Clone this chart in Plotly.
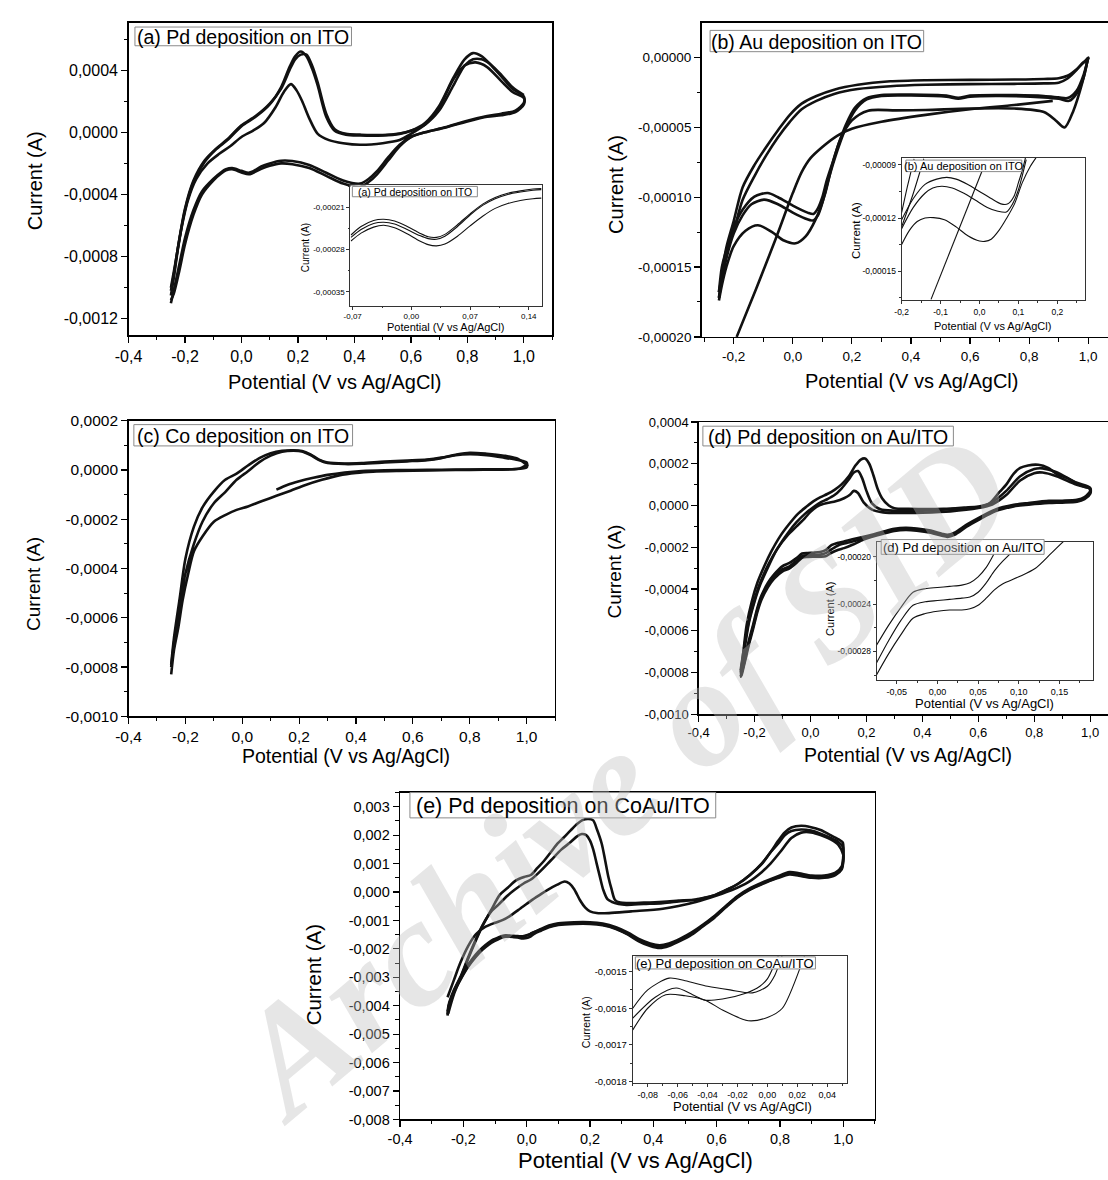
import plotly.graph_objects as go

W, H = 1108, 1180
FONT = "Liberation Sans, Arial, sans-serif"

def px(x): return x / W
def py(y): return 1 - y / H
def lab(v, d): return f"{v:.{d}f}".replace(".", ",")

# ---------------- panel (a) Pd on ITO ----------------
A_AN1_X = [-0.25, -0.235, -0.215, -0.19, -0.16, -0.12, -0.08, -0.04, 0.0, 0.04, 0.08, 0.12, 0.15, 0.175, 0.195, 0.215, 0.24, 0.27, 0.31, 0.36, 0.42, 0.5, 0.56, 0.6, 0.65, 0.7, 0.75, 0.79, 0.83, 0.87, 0.92, 0.96, 1.0]
A_AN1_Y = [-0.00100, -0.00085, -0.00064, -0.00044, -0.00030, -0.00020, -0.00014, -0.00009, -0.00003, 0.00001, 0.00006, 0.00016, 0.00026, 0.00031, 0.00027, 0.00020, 0.00009, -0.00001, -0.00005, -0.00007, -0.00008, -0.00007, -0.00005, -0.00001, 0.00005, 0.00016, 0.00034, 0.00043, 0.00045, 0.00042, 0.00033, 0.00026, 0.00022]
A_AN2_X = [-0.25, -0.24, -0.225, -0.2, -0.17, -0.13, -0.09, -0.05, 0.0, 0.05, 0.1, 0.14, 0.17, 0.19, 0.21, 0.23, 0.25, 0.27, 0.3, 0.33, 0.37, 0.42, 0.5, 0.56, 0.6, 0.65, 0.7, 0.75, 0.79, 0.82, 0.85, 0.88, 0.92, 0.96, 1.0]
A_AN2_Y = [-0.00105, -0.00094, -0.00075, -0.0005, -0.00032, -0.00019, -0.00011, -0.00005, 0.00004, 0.0001, 0.00018, 0.00029, 0.00042, 0.00049, 0.00052, 0.00049, 0.00041, 0.0003, 0.0001, 0.00001, -0.000015, -0.00002, -0.00002, -0.00001, 0.00001, 0.00006, 0.00017, 0.00035, 0.00047, 0.00051, 0.00049, 0.00044, 0.00036, 0.00028, 0.00023]
A_AN3_Y = [-0.00102, -0.00092, -0.00074, -0.00049, -0.00031, -0.00018, -0.000105, -0.000045, 0.000045, 0.000105, 0.000185, 0.00028, 0.0004, 0.00047, 0.0005, 0.0005, 0.00043, 0.00032, 0.00012, 0.00002, -0.00001, -0.000015, -0.000018, -0.000008, 0.00001, 0.00005, 0.00014, 0.0003, 0.00043, 0.00047, 0.00047, 0.00044, 0.00037, 0.00029, 0.00024]
A_CA_X = [1.0, 0.97, 0.92, 0.87, 0.8, 0.72, 0.65, 0.6, 0.56, 0.52, 0.48, 0.45, 0.42, 0.36, 0.3, 0.24, 0.18, 0.14, 0.1, 0.07, 0.04, 0.025, 0.0, -0.033, -0.055, -0.072, -0.1, -0.14, -0.17, -0.2, -0.22, -0.24, -0.25]
A_CA1_Y = [0.00018, 0.00013, 0.00011, 0.0001, 0.00007, 0.00003, 0.0, -0.00003, -0.00008, -0.00016, -0.00025, -0.0003, -0.00033, -0.00031, -0.00026, -0.00021, -0.000185, -0.000183, -0.0002, -0.00022, -0.000252, -0.00026, -0.000248, -0.00023, -0.000238, -0.000257, -0.0003, -0.00038, -0.0005, -0.00068, -0.00085, -0.00102, -0.0011]
A_CA2_Y = [0.00019, 0.00014, 0.00012, 0.000105, 0.000075, 0.000032, 0.0, -0.00003, -0.00009, -0.00018, -0.00027, -0.00032, -0.00035, -0.00033, -0.00028, -0.00023, -0.000205, -0.0002, -0.000215, -0.000235, -0.000262, -0.00027, -0.000258, -0.000238, -0.000245, -0.000265, -0.00031, -0.0004, -0.00053, -0.00072, -0.00089, -0.00104, -0.00108]

# inset (a)
AI_X = [-0.072, -0.06, -0.045, -0.033, -0.02, -0.005, 0.01, 0.02, 0.03, 0.04, 0.055, 0.07, 0.085, 0.1, 0.115, 0.13, 0.145, 0.155]
AI_Y1 = [-0.000256, -0.000242, -0.000232, -0.00023, -0.000233, -0.000242, -0.000253, -0.000259, -0.00026, -0.000255, -0.000239, -0.000221, -0.000205, -0.000194, -0.000187, -0.000183, -0.00018, -0.000179]
AI_Y2 = [-0.00026, -0.000247, -0.000237, -0.000235, -0.000238, -0.000247, -0.000257, -0.000262, -0.000263, -0.000258, -0.000242, -0.000223, -0.000207, -0.000196, -0.000189, -0.000185, -0.000182, -0.000181]
AI_Y3 = [-0.000266, -0.000253, -0.000243, -0.00024, -0.000244, -0.000254, -0.000266, -0.000272, -0.000274, -0.000271, -0.000258, -0.000241, -0.000225, -0.000212, -0.000204, -0.000199, -0.000196, -0.000195]

# ---------------- panel (b) Au on ITO ----------------
B_AN_X = [-0.25, -0.24, -0.225, -0.2, -0.17, -0.13, -0.09, -0.05, -0.01, 0.03, 0.08, 0.14, 0.22, 0.33, 0.45, 0.6, 0.75, 0.85, 0.9, 0.93, 0.96, 0.98, 1.0]
B_AN1_Y = [-0.000172, -0.000155, -0.000136, -0.000117, -0.000093, -0.000077, -0.000064, -0.000052, -0.000041, -0.000033, -0.0000275, -0.000023, -0.0000195, -0.000017, -0.0000162, -0.000016, -0.0000157, -0.0000153, -0.0000148, -0.000013, -0.0000085, -0.0000045, 0.0]
B_AN2_Y = [-0.000168, -0.00015, -0.000138, -0.000124, -0.000102, -0.000085, -0.00007, -0.000057, -0.000046, -0.000037, -0.000031, -0.000026, -0.0000225, -0.0000205, -0.0000195, -0.000019, -0.0000188, -0.0000185, -0.000018, -0.000015, -0.000009, -0.000004, -0.000001]
B_CA1_X = [1.0, 0.985, 0.96, 0.93, 0.9, 0.85, 0.7, 0.6, 0.56, 0.52, 0.4, 0.3, 0.25, 0.21, 0.18, 0.155, 0.135, 0.115, 0.1, 0.085, 0.07, 0.05, 0.0, -0.05, -0.085, -0.13, -0.17, -0.2, -0.225, -0.24, -0.25]
B_CA1_Y = [0.0, -0.000012, -0.000024, -0.000029, -0.0000285, -0.0000275, -0.0000268, -0.0000272, -0.0000288, -0.0000272, -0.0000265, -0.0000268, -0.000029, -0.000036, -0.000048, -0.000062, -0.000075, -0.000088, -0.0001, -0.000108, -0.000112, -0.000111, -0.000106, -0.0001, -0.000097, -0.0000995, -0.000109, -0.000122, -0.00014, -0.000156, -0.000168]
B_CA2_X = [1.0, 0.985, 0.96, 0.935, 0.9, 0.85, 0.7, 0.6, 0.56, 0.52, 0.4, 0.3, 0.25, 0.21, 0.18, 0.155, 0.135, 0.12, 0.1, 0.085, 0.069, 0.04, 0.0, -0.05, -0.097, -0.14, -0.17, -0.2, -0.225, -0.24, -0.25]
B_CA2_Y = [0.0, -0.000014, -0.000026, -0.000031, -0.0000295, -0.0000285, -0.0000275, -0.000028, -0.0000295, -0.000028, -0.0000272, -0.0000275, -0.00003, -0.000038, -0.00005, -0.000064, -0.000077, -0.000088, -0.000104, -0.000113, -0.0001166, -0.000115, -0.000111, -0.000105, -0.0001017, -0.000105, -0.000113, -0.000126, -0.000144, -0.00016, -0.000172]
B_CA3_X = [1.0, 0.98, 0.95, 0.92, 0.89, 0.85, 0.75, 0.6, 0.45, 0.35, 0.255, 0.2, 0.16, 0.132, 0.11, 0.077, 0.0435, 0.01, -0.03, -0.07, -0.118, -0.16, -0.2, -0.225, -0.24, -0.25]
B_CA3_Y = [0.0, -0.000018, -0.000038, -0.00005, -0.000045, -0.000039, -0.0000365, -0.0000365, -0.0000375, -0.0000378, -0.000038, -0.000045, -0.000059, -0.000078, -0.000097, -0.000116, -0.000128, -0.000133, -0.000131, -0.000125, -0.00012, -0.000124, -0.000135, -0.00015, -0.000163, -0.000174]
B_L1_X = [-0.19, -0.125, -0.06, 0.0, 0.03, 0.06, 0.1, 0.15, 0.2, 0.3, 0.45, 0.6, 0.75, 0.88]
B_L1_Y = [-0.0002, -0.000166, -0.000131, -0.000097, -0.000082, -0.000072, -0.000064, -0.000056, -0.000051, -0.000046, -0.000041, -0.000037, -0.000034, -0.000031]

# inset (b)
BI_A_X = [-0.2, -0.17, -0.14, -0.11, -0.084, -0.06, -0.03, 0.0, 0.03, 0.055, 0.073, 0.088, 0.1, 0.11, 0.118]
BI_A_Y = [-0.000121, -0.000109, -0.000101, -0.000098, -0.000097, -0.000098, -0.000101, -0.000105, -0.000109, -0.000112, -0.000112, -0.000108, -0.0001, -0.000093, -0.000086]
BI_B_X = [-0.2, -0.17, -0.14, -0.12, -0.097, -0.07, -0.04, -0.01, 0.02, 0.045, 0.069, 0.085, 0.1, 0.11, 0.12]
BI_B_Y = [-0.000126, -0.000114, -0.000106, -0.000103, -0.000102, -0.000103, -0.000106, -0.00011, -0.000114, -0.000116, -0.0001166, -0.000112, -0.000104, -0.000096, -0.000087]
BI_C_X = [-0.2, -0.18, -0.16, -0.14, -0.118, -0.09, -0.06, -0.03, 0.0, 0.0135, 0.03, 0.05, 0.07, 0.09, 0.11, 0.13, 0.145]
BI_C_Y = [-0.000135, -0.000127, -0.000122, -0.00012, -0.0001198, -0.000121, -0.000125, -0.00013, -0.000133, -0.0001332, -0.000132, -0.000127, -0.00012, -0.000112, -0.0001, -0.000091, -0.000086]
BI_S1_X = [-0.2, -0.185, -0.168]
BI_S1_Y = [-0.000117, -0.000102, -0.0000865]
BI_S2_X = [-0.2, -0.17, -0.143]
BI_S2_Y = [-0.000125, -0.000106, -0.0000865]
BI_D_X = [-0.1245, 0.0178]
BI_D_Y = [-0.000166, -0.0000872]

# ---------------- panel (c) Co on ITO ----------------
C_L1_X = [0.12, 0.16, 0.2, 0.25, 0.3, 0.36, 0.42, 0.5, 0.6, 0.7, 0.8, 0.9, 0.97, 1.0]
C_L1_Y = [-0.00008, -0.00006, -0.000046, -0.000032, -0.00002, -0.00001, -0.000004, -0.000001, 0.0, 0.000001, 0.000002, 0.000003, 0.000005, 0.00002]
C_CA_X = [1.0, 0.97, 0.92, 0.86, 0.8, 0.75, 0.7, 0.65, 0.58, 0.5, 0.42, 0.36, 0.3, 0.27, 0.24, 0.21, 0.18, 0.14, 0.1, 0.06, 0.02, -0.02, -0.06, -0.1, -0.14, -0.17, -0.2, -0.22, -0.24, -0.25]
C_CA1_Y = [0.00002, 0.000045, 0.000058, 0.000066, 0.00007, 0.000062, 0.00005, 0.000042, 0.000038, 0.000034, 0.000028, 0.000026, 0.00003, 0.000042, 0.000063, 0.000077, 0.00008, 0.000078, 0.000068, 0.000048, 0.000018, -0.000015, -0.00004, -0.000088, -0.000152, -0.00023, -0.00036, -0.00052, -0.00068, -0.00079]
C_CA2_Y = [0.00003, 0.00004, 0.00005, 0.00006, 0.000064, 0.00006, 0.000048, 0.00004, 0.000035, 0.00003, 0.000025, 0.000024, 0.000028, 0.00004, 0.00006, 0.000075, 0.000078, 0.000074, 0.000058, 0.000032, -0.000005, -0.00004, -0.00009, -0.000135, -0.00021, -0.0003, -0.00042, -0.00055, -0.0007, -0.0008]
C_AN_X = [-0.25, -0.24, -0.225, -0.21, -0.19, -0.17, -0.14, -0.1, -0.06, -0.02, 0.02, 0.07, 0.12, 0.17, 0.22, 0.28, 0.34, 0.4, 0.46, 0.55, 0.65, 0.75, 0.85, 0.95, 1.0]
C_AN_Y = [-0.00083, -0.00073, -0.00064, -0.00053, -0.00042, -0.00033, -0.00027, -0.00021, -0.000183, -0.000162, -0.000148, -0.000126, -0.000105, -0.000084, -0.000062, -0.00004, -0.000022, -0.000012, -0.000007, -0.000004, -0.000002, 0.0, 0.000001, 0.000003, 0.00001]

# ---------------- panel (d) Pd on Au/ITO ----------------
D_AN1_X = [-0.25, -0.24, -0.228, -0.21, -0.19, -0.165, -0.14, -0.11, -0.077, -0.045, -0.014, 0.01, 0.036, 0.06, 0.086, 0.11, 0.137, 0.16, 0.18, 0.195, 0.21, 0.225, 0.24, 0.256, 0.28, 0.3, 0.35, 0.476, 0.55, 0.6, 0.64, 0.677, 0.7, 0.727, 0.75, 0.778, 0.815, 0.85, 0.878, 0.92, 0.953, 0.98, 0.997]
D_AN1_Y = [-0.00082, -0.0007, -0.00057, -0.00046, -0.00037, -0.00029, -0.00022, -0.00015, -0.00009, -0.00004, -0.000005, 0.00002, 0.00004, 0.000055, 0.000075, 0.0001, 0.00014, 0.00019, 0.00022, 0.000225, 0.0002, 0.000145, 0.00008, 0.000035, 0.0, -0.000013, -0.000016, -0.000016, -0.00001, -0.000005, 0.00001, 0.000066, 0.0001, 0.000153, 0.00018, 0.000192, 0.000195, 0.00018, 0.000153, 0.00013, 0.000105, 0.00009, 0.000082]
D_AN2_X = [-0.25, -0.235, -0.22, -0.2, -0.18, -0.15, -0.12, -0.08, -0.05, -0.02, 0.01, 0.036, 0.06, 0.086, 0.11, 0.137, 0.155, 0.17, 0.185, 0.2, 0.22, 0.25, 0.3, 0.4, 0.5, 0.6, 0.65, 0.7, 0.75, 0.8, 0.83, 0.88, 0.95, 1.0]
D_AN2_Y = [-0.0008, -0.00068, -0.00056, -0.00046, -0.00038, -0.00029, -0.00021, -0.00013, -0.00008, -0.00004, -0.000008, 0.000015, 0.00003, 0.00005, 0.00008, 0.000125, 0.000158, 0.000165, 0.00013, 0.00007, 0.00001, -0.000018, -0.000025, -0.000025, -0.000018, -0.000008, 0.000015, 0.00007, 0.00014, 0.000175, 0.000178, 0.00016, 0.00011, 0.000085]
D_AN3_X = [-0.25, -0.235, -0.22, -0.2, -0.18, -0.15, -0.12, -0.08, -0.05, -0.02, 0.0, 0.03, 0.06, 0.09, 0.12, 0.14, 0.155, 0.17, 0.19, 0.22, 0.26, 0.32, 0.4, 0.5, 0.6, 0.65, 0.7, 0.75, 0.8, 0.83, 0.88, 0.95, 1.0]
D_AN3_Y = [-0.00079, -0.00066, -0.00055, -0.00045, -0.00037, -0.00028, -0.00021, -0.00014, -0.0001, -0.00006, -0.00003, 0.0, 0.000012, 0.00002, 0.000035, 0.00005, 0.00007, 0.00006, 0.000015, -0.00002, -0.000033, -0.000036, -0.000034, -0.000028, -0.000012, 0.000005, 0.00005, 0.00012, 0.000155, 0.000158, 0.00014, 0.0001, 0.00008]
D_CA_X = [1.0, 0.98, 0.953, 0.9, 0.853, 0.78, 0.727, 0.66, 0.6, 0.56, 0.515, 0.49, 0.47, 0.43, 0.38, 0.34, 0.3, 0.26, 0.22, 0.19, 0.15, 0.12, 0.1, 0.075, 0.054, 0.035, 0.01, -0.01, -0.03, -0.05, -0.075, -0.1, -0.13, -0.152, -0.175, -0.19, -0.205, -0.221, -0.235, -0.246, -0.25]
D_CA1_Y = [0.00007, 0.00004, 0.000027, 0.000023, 0.000022, 0.000012, 0.000003, -0.00002, -0.00006, -0.00009, -0.00013, -0.00014, -0.000135, -0.00012, -0.00011, -0.000107, -0.000112, -0.000125, -0.00014, -0.00015, -0.000162, -0.000172, -0.000178, -0.00019, -0.000214, -0.000223, -0.000226, -0.000227, -0.00023, -0.000252, -0.000275, -0.00029, -0.00033, -0.00037, -0.00043, -0.00049, -0.00057, -0.00065, -0.00073, -0.0008, -0.00082]
D_CA2_Y = [0.00006, 0.000035, 0.000022, 0.000018, 0.000016, 0.000008, 0.0, -0.000024, -0.000065, -0.000095, -0.000135, -0.000145, -0.00014, -0.000125, -0.000115, -0.000112, -0.000117, -0.00013, -0.000146, -0.000157, -0.000172, -0.000182, -0.00019, -0.00021, -0.000228, -0.000235, -0.000237, -0.000238, -0.000242, -0.000265, -0.000291, -0.000305, -0.00034, -0.00038, -0.00044, -0.0005, -0.00058, -0.00066, -0.00074, -0.0008, -0.00081]
D_CA3_Y = [0.000055, 0.00003, 0.000018, 0.000014, 0.000012, 0.000004, -0.000004, -0.000028, -0.00007, -0.0001, -0.00014, -0.00015, -0.000145, -0.00013, -0.00012, -0.000117, -0.000122, -0.000135, -0.00015, -0.000163, -0.000188, -0.000204, -0.000212, -0.000226, -0.000243, -0.000245, -0.000245, -0.000246, -0.00025, -0.000275, -0.000301, -0.000315, -0.00035, -0.00039, -0.00045, -0.00051, -0.00059, -0.00067, -0.00075, -0.00081, -0.00082]

# inset (d)
DI_X = [-0.075, -0.06, -0.045, -0.03, -0.015, 0.0, 0.015, 0.03, 0.04, 0.05, 0.06, 0.07, 0.08, 0.1, 0.12, 0.14, 0.16, 0.19]
DI_Y1 = [-0.000275, -0.000258, -0.000243, -0.00023, -0.000227, -0.000226, -0.000225, -0.000224, -0.000222, -0.000217, -0.000209, -0.000197, -0.000184, -0.000172, -0.000165, -0.000158, -0.00015, -0.00014]
DI_Y2 = [-0.00029, -0.000271, -0.000254, -0.000241, -0.000238, -0.000237, -0.000236, -0.000235, -0.000234, -0.00023, -0.000222, -0.000212, -0.000204, -0.000191, -0.00018, -0.000172, -0.000164, -0.000152]
DI_Y3 = [-0.0003, -0.000282, -0.000266, -0.000252, -0.000248, -0.000246, -0.000245, -0.000245, -0.000244, -0.000241, -0.000235, -0.000228, -0.000223, -0.000217, -0.00021, -0.000197, -0.000184, -0.00017]

# ---------------- panel (e) Pd on CoAu/ITO ----------------
E_AN1_X = [-0.248, -0.23, -0.206, -0.185, -0.164, -0.14, -0.112, -0.085, -0.06, -0.035, -0.008, 0.013, 0.034, 0.055, 0.076, 0.097, 0.117, 0.138, 0.159, 0.178, 0.195, 0.21, 0.222, 0.237, 0.248, 0.258, 0.268, 0.279, 0.295, 0.315, 0.37, 0.43, 0.48, 0.534, 0.565, 0.596, 0.632, 0.669, 0.705, 0.742, 0.77, 0.794, 0.815, 0.836, 0.867, 0.898, 0.928, 0.96, 0.985, 0.998]
E_AN1_Y = [-0.00428, -0.0036, -0.00294, -0.00235, -0.00179, -0.0012, -0.00063, -0.0001, 0.00015, 0.0004, 0.00053, 0.0006, 0.00085, 0.0011, 0.0014, 0.0017, 0.00192, 0.00216, 0.00239, 0.00254, 0.00257, 0.00252, 0.0022, 0.0017, 0.0011, 0.00053, 0.0001, -0.00028, -0.00037, -0.00039, -0.00037, -0.00034, -0.0003, -0.00026, -0.00019, -0.0001, 0.00008, 0.0003, 0.0006, 0.001, 0.0014, 0.0018, 0.0021, 0.00227, 0.00233, 0.00228, 0.00218, 0.002, 0.00185, 0.00175]
E_AN2_X = [-0.248, -0.23, -0.206, -0.185, -0.164, -0.14, -0.112, -0.09, -0.06, -0.038, -0.01, 0.0145, 0.04, 0.076, 0.11, 0.138, 0.16, 0.174, 0.188, 0.2, 0.21, 0.221, 0.232, 0.242, 0.255, 0.268, 0.29, 0.315, 0.37, 0.43, 0.48, 0.534, 0.565, 0.596, 0.632, 0.669, 0.705, 0.742, 0.77, 0.794, 0.815, 0.836, 0.867, 0.898, 0.928, 0.96, 0.985, 0.998]
E_AN2_Y = [-0.0041, -0.0035, -0.0029, -0.0023, -0.00175, -0.00118, -0.00068, -0.00045, -0.00012, 0.00008, 0.0003, 0.00045, 0.0007, 0.00111, 0.0015, 0.00175, 0.00197, 0.00204, 0.002, 0.00181, 0.0015, 0.001, 0.0005, 0.00007, -0.00025, -0.00034, -0.00042, -0.00045, -0.00042, -0.00039, -0.00033, -0.00027, -0.0002, -0.0001, 0.00008, 0.0003, 0.0006, 0.00098, 0.0014, 0.0017, 0.002, 0.00215, 0.0022, 0.00216, 0.00205, 0.0019, 0.00175, 0.0016]
E_AN3_X = [-0.25, -0.23, -0.21, -0.185, -0.16, -0.13, -0.1, -0.075, -0.05, -0.02, 0.002, 0.03, 0.065, 0.095, 0.12, 0.135, 0.15, 0.168, 0.185, 0.2, 0.221, 0.26, 0.33, 0.43, 0.534, 0.6, 0.65, 0.7, 0.742, 0.77, 0.8, 0.836, 0.867, 0.898, 0.93, 0.96, 0.985, 1.0]
E_AN3_Y = [-0.0037, -0.0031, -0.0025, -0.0019, -0.00148, -0.00122, -0.00108, -0.00098, -0.00082, -0.00058, -0.0004, -0.00018, 0.00007, 0.00025, 0.00037, 0.0003, 0.0001, -0.00028, -0.00055, -0.00068, -0.00074, -0.00074, -0.00068, -0.00059, -0.00035, -0.00012, 0.00008, 0.00035, 0.0007, 0.001, 0.0014, 0.0019, 0.00209, 0.0021, 0.002, 0.00185, 0.00165, 0.0013]
E_CA_X = [1.0, 0.995, 0.975, 0.94, 0.9, 0.86, 0.83, 0.79, 0.75, 0.7, 0.665, 0.63, 0.593, 0.555, 0.521, 0.485, 0.449, 0.42, 0.39, 0.354, 0.32, 0.282, 0.24, 0.2, 0.15, 0.1, 0.07, 0.045, 0.025, 0.01, 0.0, -0.013, -0.028, -0.042, -0.055, -0.066, -0.078, -0.09, -0.105, -0.12, -0.14, -0.161, -0.185, -0.209, -0.23, -0.245, -0.25]
E_CA1_Y = [0.0013, 0.0009, 0.00068, 0.00058, 0.00058, 0.00066, 0.0007, 0.00054, 0.00036, 0.0001, -0.00015, -0.00048, -0.00084, -0.00116, -0.00142, -0.00164, -0.00181, -0.00187, -0.00181, -0.00165, -0.00143, -0.00124, -0.00111, -0.00106, -0.00106, -0.0011, -0.00118, -0.0013, -0.0014, -0.00148, -0.00152, -0.00156, -0.00155, -0.00154, -0.00153, -0.00152, -0.00155, -0.0016, -0.00167, -0.00178, -0.00196, -0.0022, -0.00256, -0.003, -0.00345, -0.0039, -0.0042]
E_CA2_Y = [0.0012, 0.00085, 0.00063, 0.00053, 0.00053, 0.0006, 0.00065, 0.0005, 0.00033, 0.00007, -0.00018, -0.0005, -0.00087, -0.00119, -0.00146, -0.00168, -0.00186, -0.00193, -0.00187, -0.0017, -0.00148, -0.00128, -0.00115, -0.0011, -0.0011, -0.00114, -0.00121, -0.00132, -0.0014, -0.00149, -0.00153, -0.00157, -0.00158, -0.00158, -0.00155, -0.00155, -0.00158, -0.00163, -0.00171, -0.00182, -0.002, -0.00225, -0.0026, -0.00305, -0.0035, -0.00395, -0.0043]
E_CA3_Y = [0.0011, 0.0008, 0.0006, 0.0005, 0.0005, 0.00057, 0.00062, 0.00048, 0.00031, 0.00005, -0.0002, -0.00053, -0.0009, -0.00122, -0.0015, -0.00172, -0.0019, -0.00197, -0.0019, -0.00173, -0.0015, -0.0013, -0.00117, -0.00112, -0.00112, -0.00116, -0.00124, -0.00136, -0.00146, -0.00158, -0.00162, -0.00163, -0.0016, -0.00158, -0.00157, -0.00157, -0.0016, -0.00166, -0.00174, -0.00185, -0.00203, -0.00228, -0.00263, -0.00308, -0.00353, -0.00398, -0.00435]

# inset (e)
EI_A_X = [-0.09, -0.08, -0.0657, -0.055, -0.04, -0.025, -0.01, 0.0, 0.005, 0.0092, 0.015]
EI_A_Y = [-0.0016, -0.00155, -0.001518, -0.001525, -0.00154, -0.00155, -0.001558, -0.00154, -0.00151, -0.001464, -0.0014]
EI_B_X = [-0.09, -0.075, -0.061, -0.05, -0.0415, -0.03, -0.015, -0.005, 0.0, 0.007, 0.015]
EI_B_Y = [-0.001627, -0.00157, -0.001545, -0.001563, -0.001578, -0.001575, -0.00156, -0.00154, -0.00152, -0.00146, -0.0014]
EI_C_X = [-0.09, -0.08, -0.068, -0.055, -0.0415, -0.03, -0.0128, 0.0, 0.01, 0.0246, 0.03]
EI_C_Y = [-0.001659, -0.0016, -0.001563, -0.001566, -0.001578, -0.001605, -0.001634, -0.001625, -0.0016, -0.00146, -0.0014]

# ---------------- ticks ----------------
X_MAIN_TICKS = [-0.4, -0.2, 0.0, 0.2, 0.4, 0.6, 0.8, 1.0]
A_YTICKS = [0.0004, 0.0, -0.0004, -0.0008, -0.0012]
B_XTICKS = [-0.2, 0.0, 0.2, 0.4, 0.6, 0.8, 1.0]
B_YTICKS = [0.0, -0.00005, -0.0001, -0.00015, -0.0002]
C_YTICKS = [0.0002, 0.0, -0.0002, -0.0004, -0.0006, -0.0008, -0.001]
D_YTICKS = [0.0004, 0.0002, 0.0, -0.0002, -0.0004, -0.0006, -0.0008, -0.001]
E_YTICKS = [0.003, 0.002, 0.001, 0.0, -0.001, -0.002, -0.003, -0.004, -0.005, -0.006, -0.007, -0.008]
AI_XTICKS = [-0.07, 0.0, 0.07, 0.14]
AI_YTICKS = [-0.00021, -0.00028, -0.00035]
BI_XTICKS = [-0.2, -0.1, 0.0, 0.1, 0.2]
BI_YTICKS = [-0.00009, -0.00012, -0.00015]
DI_XTICKS = [-0.05, 0.0, 0.05, 0.1, 0.15]
DI_YTICKS = [-0.0002, -0.00024, -0.00028]
EI_XTICKS = [-0.08, -0.06, -0.04, -0.02, 0.0, 0.02, 0.04]
EI_YTICKS = [-0.0015, -0.0016, -0.0017, -0.0018]

fig = go.Figure()
layout = dict(width=W, height=H, margin=dict(l=0, r=0, t=0, b=0), paper_bgcolor="white",
              plot_bgcolor="white", showlegend=False, separators=",.")

def axis(dom, rng, tv, dec, fs, mdt, anchor, inset=False, mirror=True):
    lw = 1.0 if inset else 1.4
    tl = 3 if inset else 6
    col = "#333" if inset else "black"
    return dict(domain=dom, range=rng, anchor=anchor, showline=True, mirror=mirror, linecolor=col,
                linewidth=lw, ticks="outside", ticklen=tl, tickwidth=1 if inset else 1.2, tickcolor=col,
                tickmode="array", tickvals=tv, ticktext=[lab(v, dec) for v in tv],
                tickfont=dict(family=FONT, size=fs, color="black"), showgrid=False, zeroline=False,
                fixedrange=True,
                minor=dict(tickmode="linear", tick0=0, dtick=mdt, ticks="outside", ticklen=tl * 0.55,
                           tickwidth=1, tickcolor=col, showgrid=False))

panels = [
    (1, (116, 545, 14, 331), [-0.4, 1.1], [-0.001306, 0.000705], X_MAIN_TICKS, 1, A_YTICKS, 4, 16, 16, 0.1, 0.0002, False),
    (2, (696.3, 1108, 14, 332.7), [-0.309, 1.067], [-0.0002, 0.0000249], B_XTICKS, 1, B_YTICKS, 5, 13.5, 13.5, 0.1, 0.000025, False),
    (3, (116, 548, 417.7, 717.7), [-0.4, 1.1], [-0.001, 0.0002], X_MAIN_TICKS, 1, C_YTICKS, 4, 15.5, 15.5, 0.1, 0.0001, False),
    (4, (693.4, 1108, 419, 715.7), [-0.4, 1.064], [-0.001, 0.0004], X_MAIN_TICKS, 1, D_YTICKS, 4, 13, 13, 0.1, 0.0001, False),
    (5, (391, 872, 795, 1126.7), [-0.4, 1.1], [-0.008, 0.0035], X_MAIN_TICKS, 1, E_YTICKS, 3, 14.5, 14.5, 0.1, 0.0005, False),
    (6, (340.7, 534.6, 179, 301), [-0.0727, 0.1556], [-0.000373, -0.000174], AI_XTICKS, 2, AI_YTICKS, 5, 8, 8, 0.035, 0.000035, True),
    (7, (899, 1084.7, 150.7, 295.7), [-0.2, 0.271], [-0.0001666, -0.0000858], BI_XTICKS, 1, BI_YTICKS, 5, 8.5, 8.5, 0.05, 0.000015, True),
    (8, (873.8, 1092.7, 540.7, 680.7), [-0.0745, 0.191], [-0.000304, -0.0001875], DI_XTICKS, 2, DI_YTICKS, 5, 9, 8.5, 0.025, 0.00002, True),
    (9, (626.7, 843.3, 961, 1090), [-0.09, 0.053], [-0.0018046, -0.001458], EI_XTICKS, 2, EI_YTICKS, 4, 9, 9.5, 0.01, 0.00005, True),
]
for (i, (x0, x1, y0, y1), xr, yr, xt, xd, yt, yd, xfs, yfs, xm, ym, ins) in panels:
    sfx = "" if i == 1 else str(i)
    cut_right = x1 >= W  # panels (b) and (d) run past the right edge of the page
    layout["xaxis" + sfx] = axis([px(x0), min(1.0, px(x1))], xr, xt, xd, xfs, xm, "y" + sfx, ins)
    layout["yaxis" + sfx] = axis([py(y1), py(y0)], yr, yt, yd, yfs, ym, "x" + sfx, ins, mirror=not cut_right)

def line(xs, ys, i, w=2.6, color="#111"):
    sfx = "" if i == 1 else str(i)
    fig.add_trace(go.Scatter(x=xs, y=ys, mode="lines", xaxis="x" + sfx, yaxis="y" + sfx,
                             line=dict(color=color, width=w, shape="spline", smoothing=0.8),
                             hoverinfo="skip", showlegend=False))

line(A_AN1_X + A_CA_X, A_AN1_Y + A_CA1_Y, 1)
line(A_AN2_X + A_CA_X, A_AN2_Y + A_CA2_Y, 1)
line(A_AN2_X, A_AN3_Y, 1)
line(B_L1_X, B_L1_Y, 2)
line(B_AN_X + B_CA1_X, B_AN1_Y + B_CA1_Y, 2)
line(B_AN_X + B_CA2_X, B_AN2_Y + B_CA2_Y, 2)
line(B_CA3_X, B_CA3_Y, 2)
line(C_L1_X + C_CA_X, C_L1_Y + C_CA1_Y, 3)
line(C_AN_X + C_CA_X, C_AN_Y + C_CA2_Y, 3)
line(D_AN1_X + D_CA_X, D_AN1_Y + D_CA1_Y, 4)
line(D_AN2_X + D_CA_X, D_AN2_Y + D_CA2_Y, 4)
line(D_AN3_X + D_CA_X, D_AN3_Y + D_CA3_Y, 4)
line(E_AN1_X + E_CA_X, E_AN1_Y + E_CA1_Y, 5)
line(E_AN2_X + E_CA_X, E_AN2_Y + E_CA2_Y, 5)
line(E_AN3_X + E_CA_X, E_AN3_Y + E_CA3_Y, 5)
for ys in (AI_Y1, AI_Y2, AI_Y3):
    line(AI_X, ys, 6, w=1.1)
for xs, ys in ((BI_A_X, BI_A_Y), (BI_B_X, BI_B_Y), (BI_C_X, BI_C_Y), (BI_S1_X, BI_S1_Y), (BI_S2_X, BI_S2_Y), (BI_D_X, BI_D_Y)):
    line(xs, ys, 7, w=1.1)
for ys in (DI_Y1, DI_Y2, DI_Y3):
    line(DI_X, ys, 8, w=1.1)
for xs, ys in ((EI_A_X, EI_A_Y), (EI_B_X, EI_B_Y), (EI_C_X, EI_C_Y)):
    line(xs, ys, 9, w=1.1)

annotations = []
shapes = []

def text(t, x, y, size, angle=0):
    annotations.append(dict(text=t, x=px(x), y=py(y), xref="paper", yref="paper", showarrow=False,
                            xanchor="center", yanchor="middle", textangle=angle,
                            font=dict(family=FONT, size=size, color="black")))

YT, XT = "Current (A)", "Potential (V vs Ag/AgCl)"
for (yx, yy, ys, xx, xy, xs) in [(22, 174, 20, 325, 378, 20), (609.7, 177.5, 20, 908.5, 377, 20),
                                 (19.6, 583, 19, 336.6, 758, 19.5), (608.7, 570.8, 19, 905, 757, 19.5),
                                 (303.3, 980, 20.5, 629, 1168, 22),
                                 (295, 242.5, 10, 437.5, 323, 11), (853, 225, 11.5, 991.3, 322, 11),
                                 (825.8, 608.3, 11, 983.3, 705, 13), (580, 1028.3, 10.5, 737.5, 1114, 13)]:
    text(YT, yx, yy, ys, -90)
    text(XT, xx, xy, xs)

LABELS = ["(a) Pd deposition on ITO", "(b) Au deposition on ITO", "(c) Co deposition on ITO",
          "(d) Pd deposition on Au/ITO", "(e) Pd deposition on CoAu/ITO"]
label_boxes = [
    (LABELS[0], (122.5, 18.3, 341.8, 37.3), 19.5), (LABELS[1], (705, 21.7, 921.3, 43.3), 19.5),
    (LABELS[2], (121.4, 421.7, 342.9, 443.3), 19.5), (LABELS[3], (697.7, 423.3, 951.4, 443.3), 19.5),
    (LABELS[4], (401, 795, 710.7, 820.7), 21.5),
    (LABELS[0], (342.7, 180, 469.3, 190.5), 10.5), (LABELS[1], (903.3, 153.3, 1020.7, 165), 11),
    (LABELS[3], (878.3, 538.3, 1043.3, 553.3), 13), (LABELS[4], (629.3, 961.7, 811.7, 974), 13),
]
for t, (x0, y0, x1, y1), fs in label_boxes:
    shapes.append(dict(type="rect", xref="paper", yref="paper", x0=px(x0), x1=px(x1), y0=py(y1), y1=py(y0),
                       line=dict(color="#8a8a8a", width=1), fillcolor="white", layer="above"))
    text(t, (x0 + x1) / 2, (y0 + y1) / 2 + 0.5, fs)

# watermark of the source page
annotations.append(dict(text="<b><i>Archive of SID</i></b>", x=px(615), y=py(778), xref="paper", yref="paper",
                        showarrow=False, textangle=-40, xanchor="center", yanchor="middle",
                        font=dict(family="Liberation Serif, DejaVu Serif, serif", size=154,
                                  color="rgba(190,190,190,0.38)")))

layout["annotations"] = annotations
layout["shapes"] = shapes
fig.update_layout(**layout)
fig.write_html("out.html", config={"displayModeBar": False, "staticPlot": True},
               post_script="document.body.style.margin='0px';document.body.style.overflow='hidden';")
